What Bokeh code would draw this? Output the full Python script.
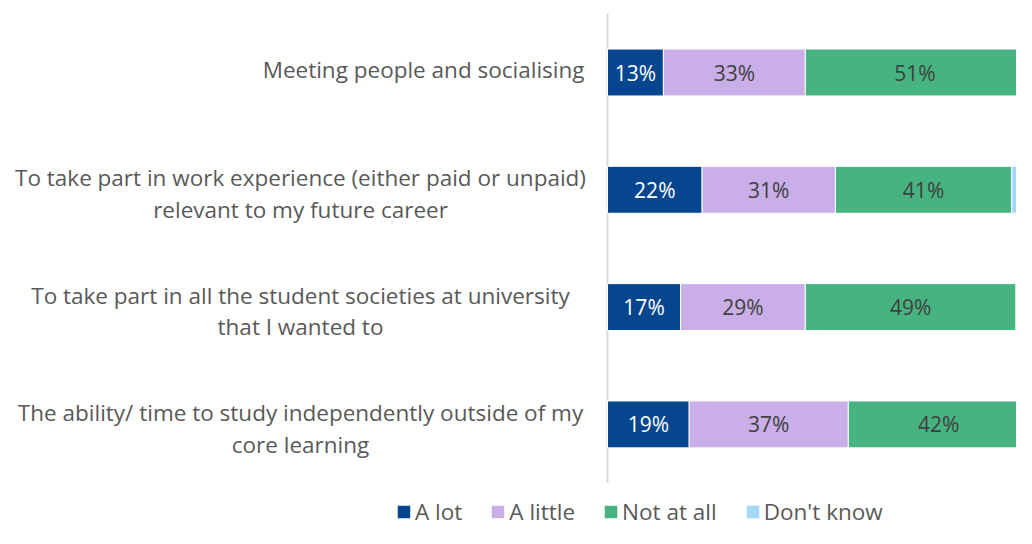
from bokeh.plotting import figure
from bokeh.models import ColumnDataSource, Legend, LegendItem
from bokeh.core.properties import value
from bokeh.embed import file_html
from bokeh.resources import INLINE

# ---- data ----
categories = [
    "Meeting people and socialising",
    "To take part in work experience (either paid or unpaid)\nrelevant to my future career",
    "To take part in all the student societies at university\nthat I wanted to",
    "The ability/ time to study independently outside of my\ncore learning",
]
series = ["A lot", "A little", "Not at all", "Don't know"]
a_lot = [13, 22, 17, 19]
a_little = [33, 31, 29, 37]
not_at_all = [51, 41, 49, 42]
dont_know = [3, 6, 5, 2]

colors = ["#05468f", "#c9aee8", "#46b381", "#a3d8f6"]
label_colors = ["#ffffff", "#404040", "#404040", None]

# ---- layout constants ----
W, H = 1016, 528
PX_PER_PCT = 4.3
ZERO_PX = 607           # canvas x of the 0% line
ROW_PX = 117.3          # vertical distance between rows
TOP_ROW_PX = 72         # canvas y of first row centre

n = len(categories)
rows = [n - i for i in range(n)]  # top row has largest y
y_end = n + TOP_ROW_PX / ROW_PX
y_start = y_end - H / ROW_PX

p = figure(width=W, height=H, output_backend="svg", toolbar_location=None,
           x_range=(-ZERO_PX / PX_PER_PCT, (W - ZERO_PX) / PX_PER_PCT),
           y_range=(y_start, y_end), x_axis_type=None, y_axis_type=None,
           min_border=0)
p.outline_line_color = None
p.background_fill_color = "white"

# vertical axis line
p.segment(x0=[0], y0=[0.5], x1=[0], y1=[n + 0.5], line_color="#d9d9d9", line_width=2)

vals = [a_lot, a_little, not_at_all, dont_know]
left = [0] * n
renderers = []
for s, v, c, lc in zip(series, vals, colors, label_colors):
    right = [l + x for l, x in zip(left, v)]
    src = ColumnDataSource(dict(y=rows, left=left, right=right,
                                mid=[(l + r) / 2 for l, r in zip(left, right)],
                                lab=[f"{x}%" for x in v]))
    r = p.hbar(y="y", left="left", right="right", height=0.4, source=src,
               fill_color=c, line_color="white", line_width=1)
    renderers.append(r)
    if lc is not None:
        p.text(x="mid", y="y", text="lab", source=src, text_align="center",
               text_baseline="middle", text_font=value("Open Sans"),
               text_font_size="21px", text_color=lc)
    left = right

# category labels
single = [(y, t) for y, t in zip(rows, categories) if "\n" not in t]
multi = [(y, t) for y, t in zip(rows, categories) if "\n" in t]
if single:
    p.text(x=[0] * len(single), y=[y for y, _ in single], text=[t for _, t in single],
           x_offset=-23, y_offset=-3, text_align="right", text_baseline="middle",
           text_font=value("Open Sans"), text_font_size="22.5px", text_color="#595959")
if multi:
    p.text(x=[0] * len(multi), y=[y for y, _ in multi], text=[t for _, t in multi],
           x_offset=-307, y_offset=4, text_align="center", text_baseline="middle",
           text_line_height=1.02,
           text_font=value("Open Sans"), text_font_size="22.5px", text_color="#595959")

legend = Legend(items=[LegendItem(label=s, renderers=[r]) for s, r in zip(series, renderers)],
                orientation="horizontal", location=(395, 1),
                glyph_width=17, glyph_height=17, label_standoff=3, spacing=27,
                padding=0, margin=0, border_line_color=None, background_fill_alpha=0,
                label_text_font="Open Sans", label_text_font_size="22.5px",
                label_text_color="#595959")
p.add_layout(legend)

open("out.html", "w").write(file_html(p, INLINE))
